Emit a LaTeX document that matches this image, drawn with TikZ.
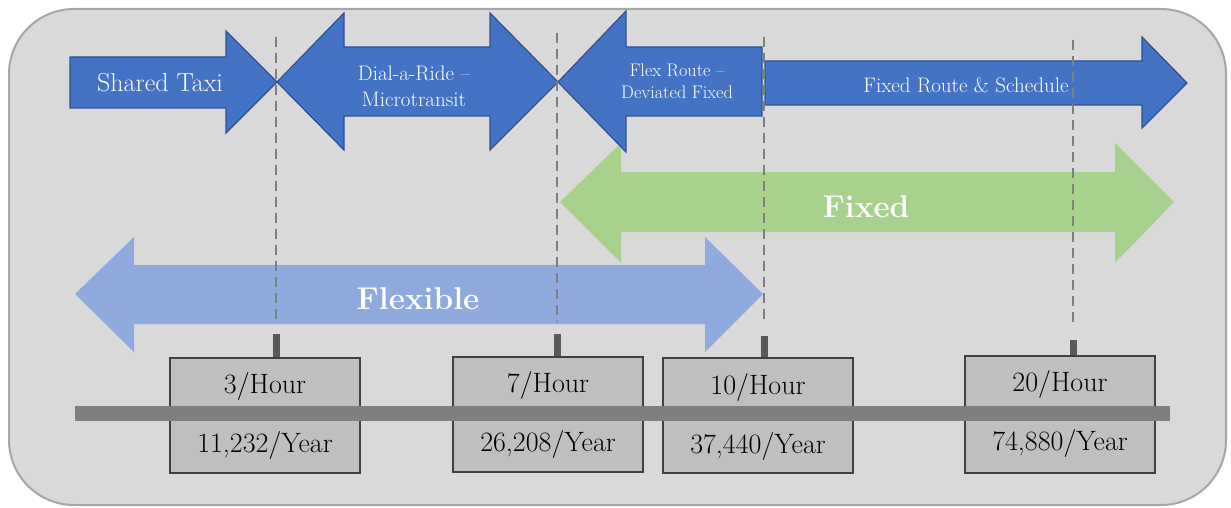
\documentclass[tikz,border=0pt]{standalone}
\usepackage{fontspec}
\usepackage{tikz}

\definecolor{panel}{HTML}{D9D9D9}
\definecolor{panelEdge}{HTML}{A6A6A6}
\definecolor{mode}{HTML}{4472C4}
\definecolor{modeEdge}{HTML}{2F528F}
\definecolor{flexBlue}{HTML}{8FAADC}
\definecolor{fixGreen}{HTML}{A9D18E}
\definecolor{boxGray}{HTML}{BFBFBF}
\definecolor{barGray}{HTML}{7F7F7F}
\definecolor{tickGray}{HTML}{595959}

\tikzset{
	modearrow/.style = {fill=mode, draw=modeEdge, line width=1.2pt},
	modetext/.style = {text=white, align=center, font=\fontsize{21}{26}\selectfont},
	bigtext/.style = {text=white, font=\fontsize{31.5}{36}\selectfont\bfseries},
	ratebox/.style = {draw=black!75, fill=boxGray, line width=1.5pt,
		minimum width=190pt, minimum height=115pt, inner sep=0pt},
	ratetext/.style = {font=\fontsize{28}{30}\selectfont},
	guide/.style = {draw=barGray, line width=2.6pt, dash pattern=on 10pt off 6pt},
	tick/.style = {draw=tickGray, line width=7pt}
}

\begin{document}
\begin{tikzpicture}[x=1pt,y=-1pt]

	\useasboundingbox (0,0) rectangle (1231,508);
	\draw[fill=panel, draw=panelEdge, line width=2pt, rounded corners=65pt]
		(9,9) rectangle (1226,505);

	% flexible / fixed ranges
	\fill[flexBlue] (75,294) -- (134,237) -- (134,265) -- (705,265) -- (705,237)
		-- (763,294) -- (705,352) -- (705,324) -- (134,324) -- (134,352) -- cycle;
	\fill[fixGreen] (560,202) -- (621,143) -- (621,172) -- (1115,172) -- (1115,143)
		-- (1174,202) -- (1115,263) -- (1115,232) -- (621,232) -- (621,263) -- cycle;

	% service types
	\draw[modearrow] (70,57) -- (226,57) -- (226,31) -- (277,82) -- (226,133)
		-- (226,108) -- (70,108) -- cycle;
	\draw[modearrow] (277,82) -- (344,13) -- (344,47) -- (490,47) -- (490,13)
		-- (558,82) -- (490,150) -- (490,116) -- (344,116) -- (344,150) -- cycle;
	\draw[modearrow] (558,82) -- (626,11) -- (626,47) -- (762,47) -- (762,116)
		-- (626,116) -- (626,152) -- cycle;
	\draw[modearrow] (765,61) -- (1142,61) -- (1142,37) -- (1187,83) -- (1142,128)
		-- (1142,105) -- (765,105) -- cycle;

	\node[modetext] (taxi) at (160,83) {\fontsize{26}{28}\selectfont Shared Taxi};
	\node[modetext] (dar) at (414,86) {Dial-a-Ride –\\Microtransit};
	\node[modetext, font=\fontsize{18.2}{22}\selectfont] (flexr) at (677,81) {Flex Route –\\Deviated Fixed};
	\node[modetext] (fixr) at (966,85) {Fixed Route \& Schedule};
	\node[bigtext] (fixed) at (866,207) {Fixed};
	\node[bigtext] (flexible) at (418,299) {Flexible};

	% frequency marks
	\coordinate (g1) at (276,37);
	\coordinate (g2) at (557,33);
	\coordinate (g3) at (764,37);
	\coordinate (g4) at (1073,40);
	\draw[guide] (g1) -- (276,322);
	\draw[guide] (g2) -- (557,322);
	\draw[guide] (g3) -- (764,323);
	\draw[guide] (g4) -- (1073,325);

	\node[ratebox] (b1) at (265,415.5) {};
	\node[ratebox] (b2) at (548,414.5) {};
	\node[ratebox] (b3) at (758,415.5) {};
	\node[ratebox, minimum height=117pt] (b4) at (1060,414.5) {};

	\coordinate (t1) at (276,334);
	\coordinate (t2) at (557,334);
	\coordinate (t3) at (764,336);
	\coordinate (t4) at (1073,340);
	\draw[tick] (t1) -- (t1 |- b1.north);
	\draw[tick] (t2) -- (t2 |- b2.north);
	\draw[tick] (t3) -- (t3 |- b3.north);
	\draw[tick] (t4) -- (t4 |- b4.north);

	\fill[barGray] (75,406) rectangle (1170,421);

	\node[ratetext] (h1) at (265,386) {3/Hour};
	\node[ratetext] (y1) at (265,445) {11,232/Year};
	\node[ratetext] (h2) at (548,385) {7/Hour};
	\node[ratetext] (y2) at (548,444) {26,208/Year};
	\node[ratetext] (h3) at (758,387) {10/Hour};
	\node[ratetext] (y3) at (758,446) {37,440/Year};
	\node[ratetext] (h4) at (1060,384) {20/Hour};
	\node[ratetext] (y4) at (1060,443) {74,880/Year};

\end{tikzpicture}
\end{document}
